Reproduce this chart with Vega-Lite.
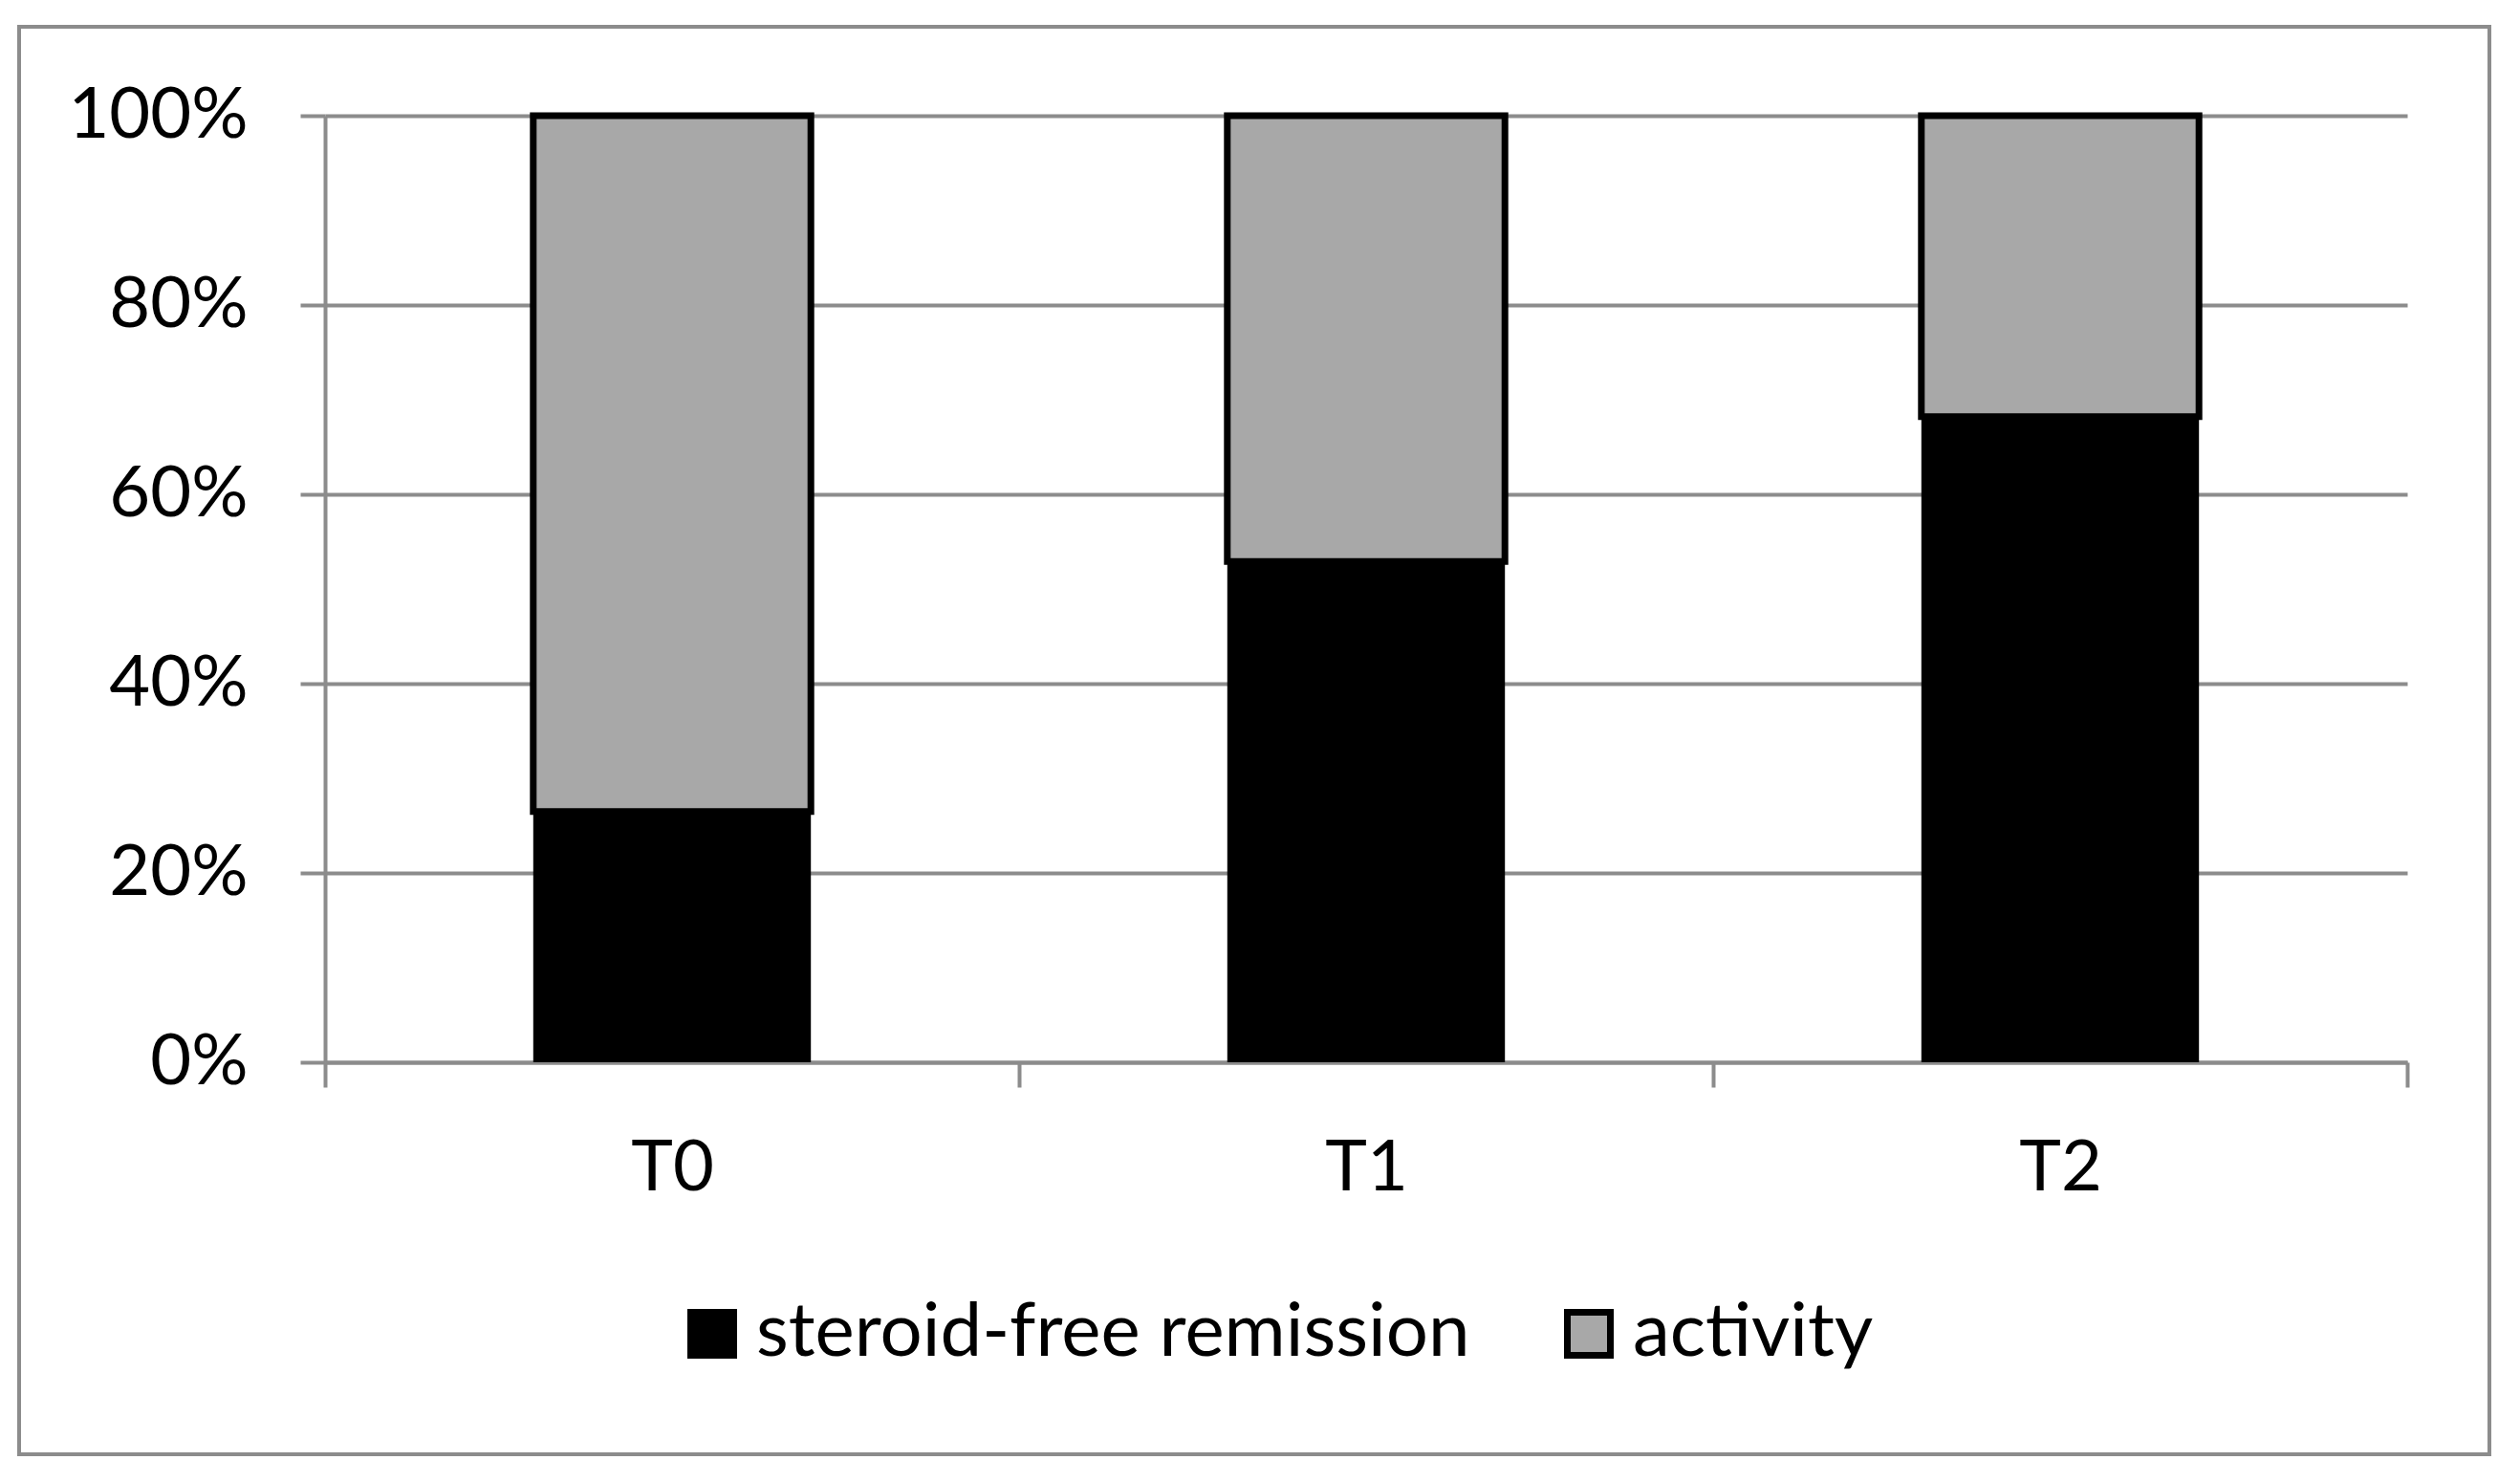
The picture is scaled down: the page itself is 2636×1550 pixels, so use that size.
{
  "$schema": "https://vega.github.io/schema/vega-lite/v6.json",
  "width": 2584,
  "height": 1493,
  "autosize": {"type": "none"},
  "padding": {"left": 20, "top": 28, "right": 32, "bottom": 29},
  "background": "white",
  "config": {
    "view": {"stroke": "#8c8c8c", "strokeWidth": 4},
    "font": "Lato"
  },
  "data": {
    "values": [
      {"time": "T0", "series": "steroid-free remission", "value": 26.5},
      {"time": "T0", "series": "activity", "value": 73.5},
      {"time": "T1", "series": "steroid-free remission", "value": 52.9},
      {"time": "T1", "series": "activity", "value": 47.1},
      {"time": "T2", "series": "steroid-free remission", "value": 68.2},
      {"time": "T2", "series": "activity", "value": 31.8}
    ]
  },
  "mark": {"type": "bar", "stroke": "black", "width": {"band": 0.4}},
  "encoding": {
    "x": {
      "field": "time",
      "type": "nominal",
      "scale": {"range": [320, 2498], "paddingInner": 0, "paddingOuter": 0},
      "axis": {
        "title": null,
        "orient": "bottom",
        "offset": -410,
        "labelAngle": 0,
        "tickBand": "extent",
        "tickSize": 26,
        "tickWidth": 4,
        "tickColor": "#8c8c8c",
        "domainColor": "#8c8c8c",
        "domainWidth": 4,
        "labelFont": "Lato",
        "labelFontSize": 74,
        "labelColor": "black",
        "labelPadding": 49,
        "grid": false
      }
    },
    "y": {
      "field": "value",
      "type": "quantitative",
      "stack": "zero",
      "scale": {"domain": [0, 100], "range": [1083, 93], "nice": false},
      "axis": {
        "title": null,
        "orient": "left",
        "offset": -320,
        "values": [0, 20, 40, 60, 80, 100],
        "labelExpr": "datum.value + '%'",
        "labelLimit": 600,
        "tickSize": 26,
        "tickWidth": 4,
        "tickColor": "#8c8c8c",
        "domainColor": "#8c8c8c",
        "domainWidth": 4,
        "grid": true,
        "gridColor": "#8c8c8c",
        "gridWidth": 4,
        "labelFont": "Lato",
        "labelFontSize": 74,
        "labelColor": "black",
        "labelPadding": 55
      }
    },
    "color": {
      "field": "series",
      "type": "nominal",
      "scale": {"domain": ["steroid-free remission", "activity"], "range": ["#000000", "#a8a8a8"]},
      "legend": {
        "title": null,
        "orient": "none",
        "legendX": 686,
        "legendY": 1328,
        "direction": "horizontal",
        "columns": 2,
        "padding": 0,
        "labelFont": "Lato",
        "labelFontSize": 78,
        "labelColor": "black",
        "symbolType": "square",
        "symbolSize": 2025,
        "symbolStrokeColor": "black",
        "symbolStrokeWidth": 7,
        "symbolOpacity": 1,
        "labelOffset": 7,
        "columnPadding": 85,
        "labelLimit": 2000
      }
    },
    "order": {"field": "series", "sort": "descending"},
    "strokeWidth": {"condition": {"test": "datum.series === 'activity'", "value": 7}, "value": 0}
  }
}
